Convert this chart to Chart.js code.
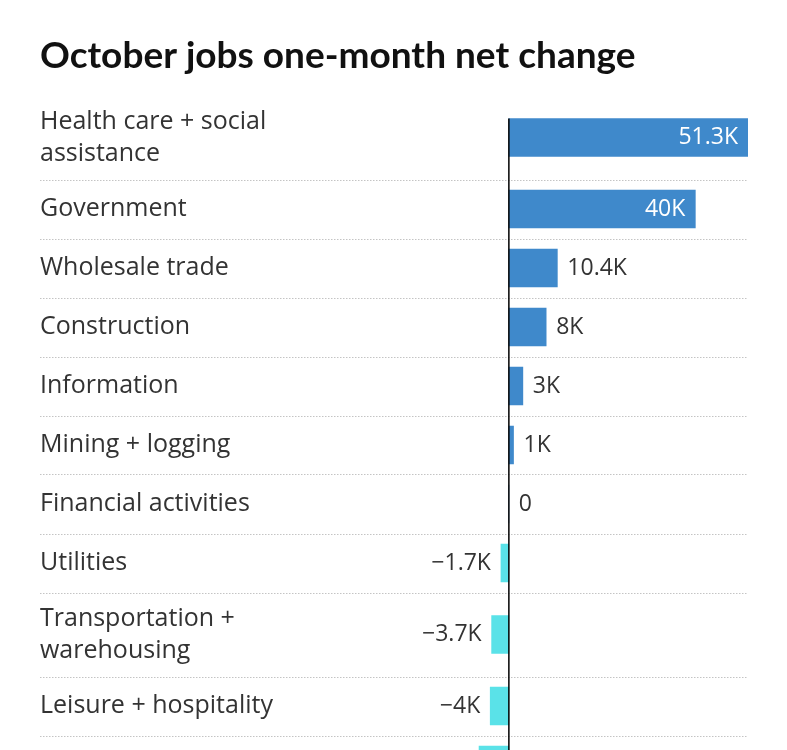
<!DOCTYPE html>
<html>
<head>
<meta charset="utf-8">
<script src="https://cdn.jsdelivr.net/npm/chart.js@4.4.1/dist/chart.umd.min.js"></script>
<style>
  html, body { margin: 0; padding: 0; background: #fff; overflow: hidden; }
  #wrap { position: relative; width: 787px; height: 750px; }
</style>
</head>
<body>
<div id="wrap"><canvas id="jobsChart"></canvas></div>
<script>
// Sectors and their one-month change, in thousands of jobs
const categories = [
    ['Health care + social', 'assistance'],
    'Government',
    'Wholesale trade',
    'Construction',
    'Information',
    'Mining + logging',
    'Financial activities',
    'Utilities',
    ['Transportation +', 'warehousing'],
    'Leisure + hospitality',
    'Retail trade'
];
const changes = [51.3, 40, 10.4, 8, 3, 1, 0, -1.7, -3.7, -4, -6.4];

const BLUE = '#3f89cb';
const CYAN = '#5ae2e8';
const LABEL_FONT = '"Open Sans", "Noto Sans", sans-serif';
const TITLE_FONT = 'Lato, "Noto Sans", sans-serif';

// rows with two lines of label are taller; y units are pixels of row height
const rowHeights = categories.map(c => Array.isArray(c) ? 84 : 59);
const rowTops = [];
let acc = 0;
rowHeights.forEach(h => { rowTops.push(acc); acc += h; });
const rowCenters = rowTops.map((t, i) => t + rowHeights[i] / 2);
const AREA_TOP = 95.5;
const VISIBLE_SPAN = 750 - AREA_TOP; // the last row runs off the bottom

function fmt(v) {
    if (v === 0) return '0';
    return (v < 0 ? '\u2212' : '') + Math.abs(v) + 'K';
}

const decorations = {
    id: 'decorations',
    beforeDraw(chart) {
        const ctx = chart.ctx;
        ctx.save();
        ctx.font = 'bold 37px ' + TITLE_FONT;
        ctx.fillStyle = '#111';
        ctx.textAlign = 'left';
        ctx.textBaseline = 'alphabetic';
        ctx.fillText('October jobs one-month net change', 40, 68);
        ctx.restore();
    },
    beforeDatasetsDraw(chart) {
        const ctx = chart.ctx;
        const y = chart.scales.y;
        ctx.save();
        // dotted row separators
        ctx.strokeStyle = '#c4c4c4';
        ctx.lineWidth = 1;
        ctx.setLineDash([1.5, 1.5]);
        for (let i = 1; i < rowTops.length; i++) {
            const py = Math.round(y.getPixelForValue(rowTops[i])) + 0.5;
            ctx.beginPath();
            ctx.moveTo(40, py);
            ctx.lineTo(chart.chartArea.right, py);
            ctx.stroke();
        }
        ctx.setLineDash([]);
        // category labels
        ctx.font = '25px ' + LABEL_FONT;
        ctx.fillStyle = '#333';
        ctx.textAlign = 'left';
        ctx.textBaseline = 'middle';
        categories.forEach((c, i) => {
            const lines = Array.isArray(c) ? c : [c];
            const cy = y.getPixelForValue(rowCenters[i]);
            lines.forEach((ln, j) => {
                ctx.fillText(ln, 40, cy + (j - (lines.length - 1) / 2) * 32);
            });
        });
        ctx.restore();
    },
    afterDatasetsDraw(chart) {
        const ctx = chart.ctx;
        const x = chart.scales.x;
        const bars = chart.getDatasetMeta(0).data;
        ctx.save();
        // zero line
        const zx = x.getPixelForValue(0);
        ctx.strokeStyle = '#000';
        ctx.lineWidth = 1.5;
        ctx.beginPath();
        ctx.moveTo(zx, bars[0].y - bars[0].height / 2);
        ctx.lineTo(zx, chart.chartArea.bottom);
        ctx.stroke();

        // value labels
        ctx.font = '23px ' + LABEL_FONT;
        ctx.textBaseline = 'middle';
        bars.forEach((bar, i) => {
            const v = changes[i];
            const txt = fmt(v);
            const w = ctx.measureText(txt).width;
            const len = Math.abs(bar.x - bar.base);
            if (v > 0 && len > w + 24) {
                ctx.fillStyle = '#fff';
                ctx.textAlign = 'right';
                ctx.fillText(txt, bar.x - 10, bar.y);
            } else if (v >= 0) {
                ctx.fillStyle = '#333';
                ctx.textAlign = 'left';
                ctx.fillText(txt, Math.max(bar.x, zx) + 10, bar.y);
            } else {
                ctx.fillStyle = '#333';
                ctx.textAlign = 'right';
                ctx.fillText(txt, bar.x - 10, bar.y);
            }
        });
        ctx.restore();
    }
};

new Chart(document.getElementById('jobsChart'), {
    type: 'bar',
    data: {
        datasets: [{
            data: changes.map((v, i) => ({ x: v, y: rowCenters[i] })),
            backgroundColor: changes.map(v => v >= 0 ? BLUE : CYAN),
            borderWidth: 0,
            barThickness: 38
        }]
    },
    options: {
        indexAxis: 'y',
        responsive: true,
        maintainAspectRatio: false,
        animation: false,
        layout: { padding: { left: 397, right: 39, top: AREA_TOP, bottom: 0 } },
        scales: {
            x: { display: false, min: -24, max: 51.3 },
            y: { type: 'linear', display: false, reverse: true, offset: false, min: 0, max: VISIBLE_SPAN }
        },
        plugins: {
            legend: { display: false },
            tooltip: { enabled: false },
            title: { display: false }
        }
    },
    plugins: [decorations]
});
</script>
</body>
</html>
